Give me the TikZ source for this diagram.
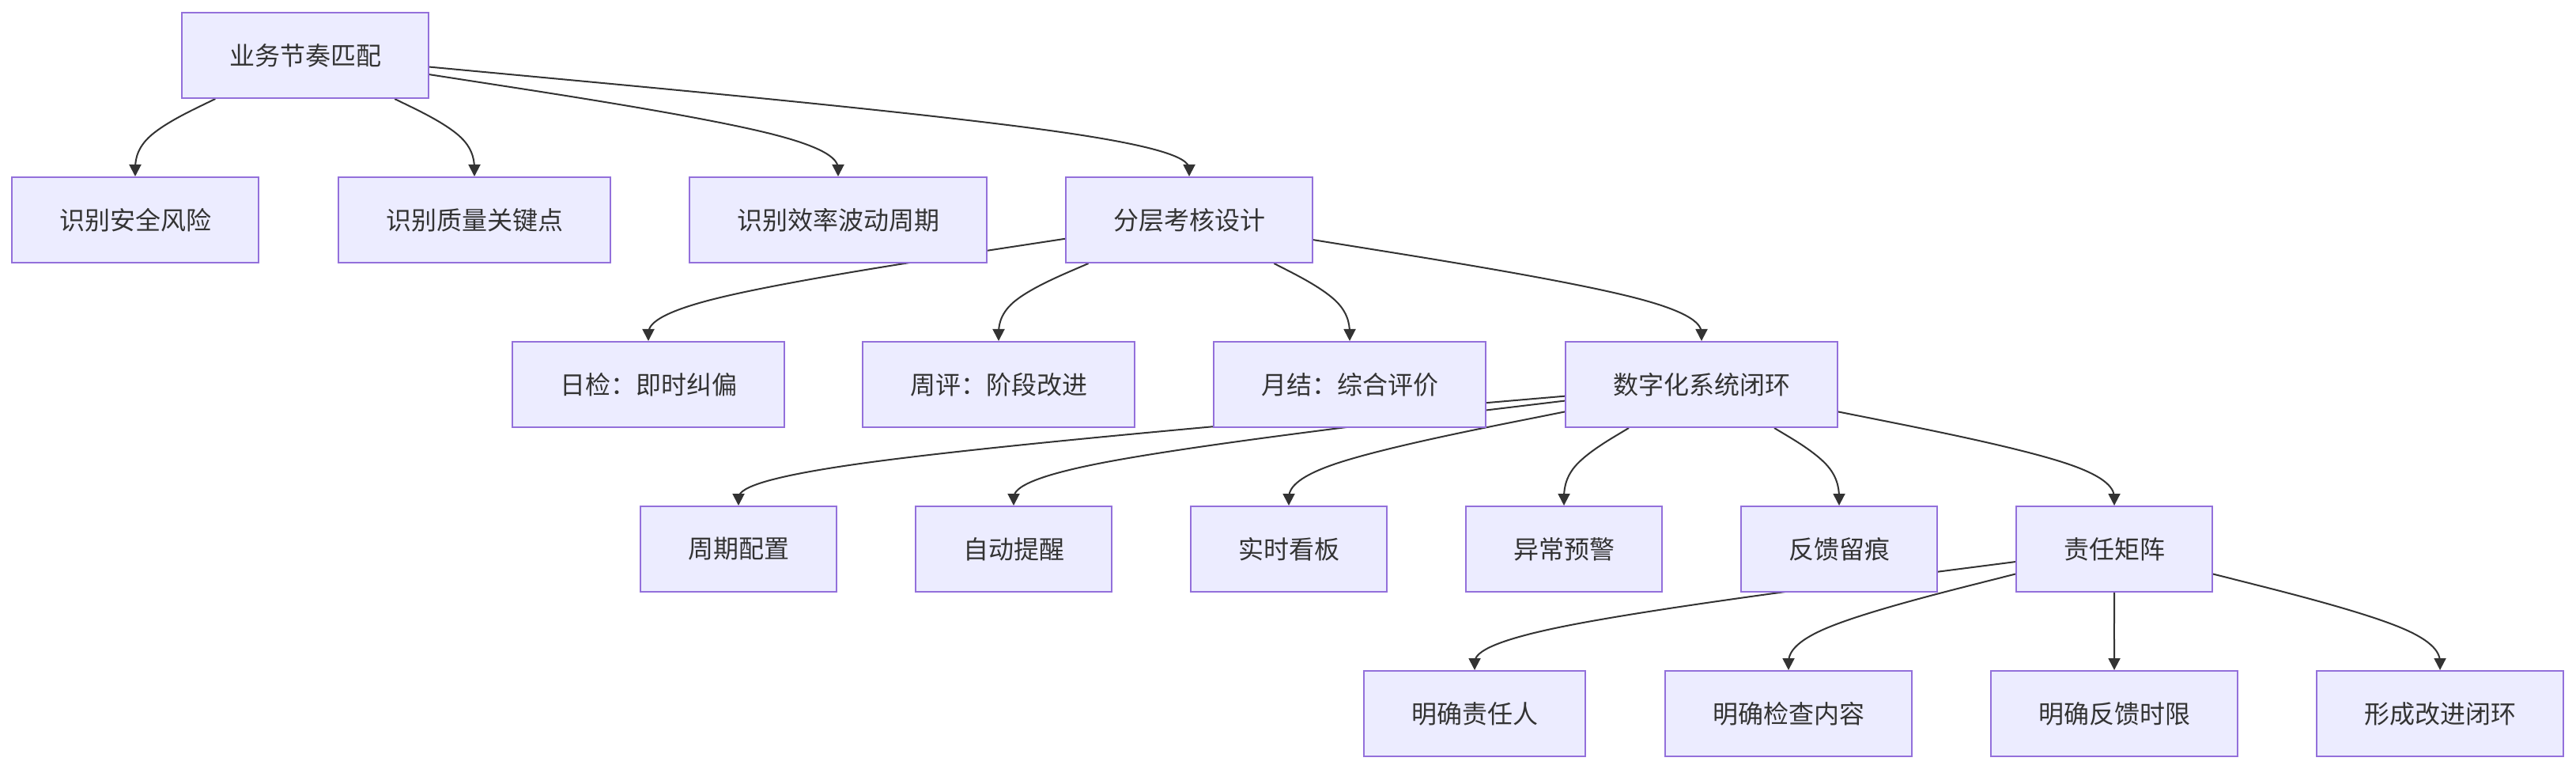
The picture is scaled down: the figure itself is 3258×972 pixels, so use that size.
\documentclass[tikz,border=0pt]{standalone}
\usepackage{fontspec}
\setmainfont{Noto Sans CJK SC}
\usetikzlibrary{calc,arrows.meta,backgrounds}
\definecolor{nfill}{HTML}{ECECFF}
\definecolor{nline}{HTML}{9370DB}
\definecolor{etext}{HTML}{333333}
\tikzset{
  box/.style={draw=nline, fill=nfill, line width=1pt, minimum height=54pt,
    inner sep=0pt, text=etext, font=\fontsize{16pt}{19pt}\selectfont, minimum width=#1},
  link/.style={draw=etext, line width=1pt, -{Triangle[length=7.5pt,width=7.5pt]}},
}
% basis-spline edge: source, target, mid y (px)
\newcommand\mmedge[3]{%
  \path (#2.center |- 0,#3) coordinate (eB);
  \path (#1) -- (eB) coordinate[pos=0] (eA);
  \path (#2.north) coordinate (eC);
  \draw[link] (eA) -- ($(eA)!1/6!(eB)$)
    .. controls ($(eA)!1/3!(eB)$) and ($(eA)!2/3!(eB)$) .. ($1/6*(eA)+2/3*(eB)+1/6*(eC)$)
    .. controls ($(eB)!1/3!(eC)$) and ($(eB)!2/3!(eC)$) .. ($(eB)!5/6!(eC)$) -- (eC);
}
\begin{document}
\begin{tikzpicture}[x=0.5pt,y=-0.5pt]
\useasboundingbox (0,0) rectangle (3258,972);
% row 1
\node[box=156pt] (a) at (386,70) {业务节奏匹配};
% row 2
\node[box=156pt] (b1) at (171,278) {识别安全风险};
\node[box=172pt] (b2) at (600,278) {识别质量关键点};
\node[box=188pt] (b3) at (1060,278) {识别效率波动周期};
\node[box=156pt] (b4) at (1504,278) {分层考核设计};
% row 3
\node[box=172pt] (c1) at (820,486) {日检：即时纠偏};
\node[box=172pt] (c2) at (1263,486) {周评：阶段改进};
\node[box=172pt] (c3) at (1707,486) {月结：综合评价};
\node[box=172pt] (c4) at (2152,486) {数字化系统闭环};
% row 4
\node[box=124pt] (d1) at (934,694) {周期配置};
\node[box=124pt] (d2) at (1282,694) {自动提醒};
\node[box=124pt] (d3) at (1630,694) {实时看板};
\node[box=124pt] (d4) at (1978,694) {异常预警};
\node[box=124pt] (d5) at (2326,694) {反馈留痕};
\node[box=124pt] (d6) at (2674,694) {责任矩阵};
% row 5
\node[box=140pt] (e1) at (1865,902) {明确责任人};
\node[box=156pt] (e2) at (2262,902) {明确检查内容};
\node[box=156pt] (e3) at (2674,902) {明确反馈时限};
\node[box=156pt] (e4) at (3086,902) {形成改进闭环};
% edges (behind the nodes)
\begin{scope}[on background layer]
\mmedge{a}{b1}{174}
\mmedge{a}{b2}{174}
\mmedge{a}{b3}{174}
\mmedge{a}{b4}{174}
\mmedge{b4}{c1}{382}
\mmedge{b4}{c2}{382}
\mmedge{b4}{c3}{382}
\mmedge{b4}{c4}{382}
\mmedge{c4}{d1}{590}
\mmedge{c4}{d2}{590}
\mmedge{c4}{d3}{590}
\mmedge{c4}{d4}{590}
\mmedge{c4}{d5}{590}
\mmedge{c4}{d6}{590}
\mmedge{d6}{e1}{798}
\mmedge{d6}{e2}{798}
\mmedge{d6}{e3}{798}
\mmedge{d6}{e4}{798}
\end{scope}
\end{tikzpicture}
\end{document}
